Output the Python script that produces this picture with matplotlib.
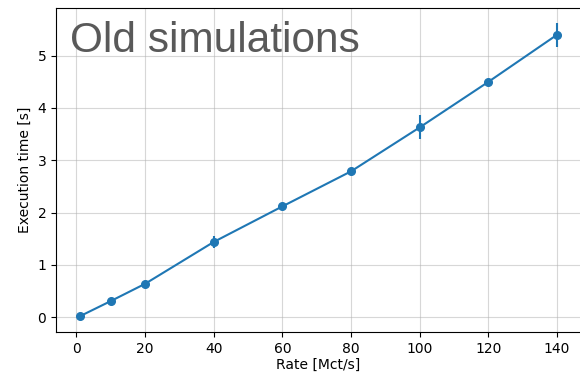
from matplotlib import pyplot as plt

# Data
rate = [1, 10, 20, 40, 60, 80, 100, 120, 140]          # Mct/s
exec_time = [0.02, 0.31, 0.64, 1.44, 2.12, 2.79, 3.63, 4.50, 5.40]  # s
exec_err = [0.02, 0.03, 0.03, 0.12, 0.03, 0.03, 0.23, 0.03, 0.23]

fig = plt.figure(figsize=(5.8, 3.73), dpi=100)
ax = fig.add_axes([0.0966, 0.1099, 0.905, 0.8687])

ax.errorbar(rate, exec_time, yerr=exec_err, marker='o', markersize=5.5,
            color='tab:blue', linewidth=1.5, elinewidth=1.5)
ax.grid(True, alpha=0.5)
ax.set_xlabel('Rate [Mct/s]', labelpad=1.5)
ax.set_ylabel('Execution time [s]')
ax.set_xticks([0, 20, 40, 60, 80, 100, 120, 140])

fig.text(0.12, 0.89, 'Old simulations', fontsize=30.5, color='#595959',
         family='Liberation Sans', va='center', ha='left')

fig.savefig('out.png', dpi=100)
